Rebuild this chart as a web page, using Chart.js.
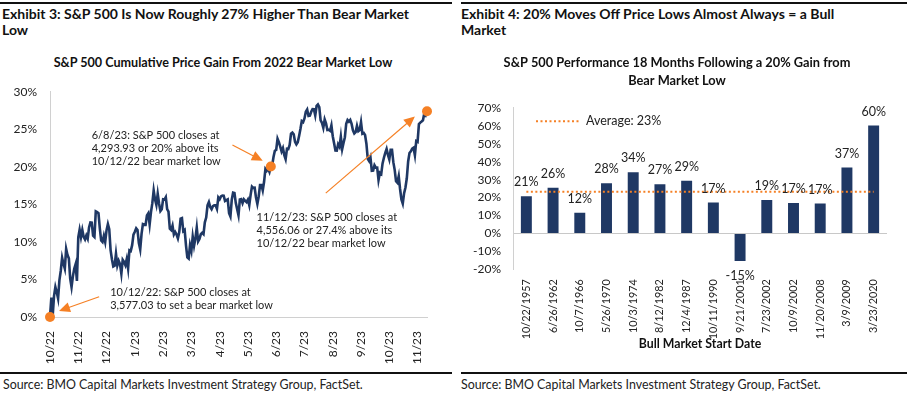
<!DOCTYPE html>
<html>
<head>
<meta charset="utf-8">
<script src="https://cdn.jsdelivr.net/npm/chart.js@4.4.1/dist/chart.umd.min.js"></script>
<style>
  body { margin: 0; width: 907px; height: 393px; background: #fff; position: relative; overflow: hidden; font-family: Lato, sans-serif; color: #111; }
  .rule { position: absolute; height: 1.5px; background: #111; }
  .head { position: absolute; top: 6px; font-weight: bold; font-size: 14px; line-height: 16px; color: #111; white-space: nowrap; }
  .sub { position: absolute; font-weight: bold; font-size: 12.6px; color: #111; text-align: center; white-space: nowrap; }
  .src { position: absolute; top: 377px; font-size: 12.4px; color: #222; white-space: nowrap; }
  canvas { position: absolute; top: 50px; }
</style>
</head>
<body>
  <div class="rule" style="left:0;width:452px;top:2px"></div>
  <div class="head" style="left:2px">Exhibit 3: S&amp;P 500 Is Now Roughly 27% Higher Than Bear Market<br>Low</div>
  <div class="sub" style="left:23px;width:400px;top:55px">S&amp;P 500 Cumulative Price Gain From 2022 Bear Market Low</div>
  <canvas id="gainChart" width="453" height="322" style="left:0"></canvas>
  <div class="rule" style="left:0;width:452px;top:372px"></div>
  <div class="src" style="left:3px">Source: BMO Capital Markets Investment Strategy Group, FactSet.</div>

  <div class="rule" style="left:461px;width:446px;top:2px"></div>
  <div class="head" style="left:461px">Exhibit 4: 20% Moves Off Price Lows Almost Always = a Bull<br>Market</div>
  <canvas id="bullChart" width="454" height="322" style="left:453px"></canvas>
  <div class="rule" style="left:461px;width:446px;top:372px"></div>
  <div class="src" style="left:461px">Source: BMO Capital Markets Investment Strategy Group, FactSet.</div>

<script>
  // S&P 500 daily closes, 10/12/22 bear market low through 11/22/23
  const lowClose = 3577.03;
  const spxClose = [
    // Oct 22
    3577.03, 3669.91, 3583.07, 3677.95, 3719.98, 3695.16, 3665.78, 3752.75, 3797.34, 3859.11, 3830.60, 3807.30, 3901.06, 3871.98,
    // Nov 22
    3856.10, 3759.69, 3719.89, 3770.55, 3806.80, 3828.11, 3748.57, 3956.37, 3992.93, 3957.25, 3991.73, 3958.79, 3946.56, 3965.34, 3949.94, 4003.58, 4027.26, 4026.12, 3963.94, 3957.63, 4080.11,
    // Dec 22
    4076.57, 4071.70, 3998.84, 3941.26, 3933.92, 3963.51, 3934.38, 3990.56, 4019.65, 3995.32, 3895.75, 3852.36, 3817.66, 3821.62, 3878.44, 3822.39, 3844.82, 3829.25, 3783.22, 3849.28, 3839.50,
    // Jan 23
    3824.14, 3852.97, 3808.10, 3895.08, 3892.09, 3919.25, 3969.61, 3983.17, 3999.09, 3990.97, 3928.86, 3898.85, 3972.61, 4019.81, 4016.95, 4016.22, 4060.43, 4070.56, 4017.77, 4076.60,
    // Feb 23
    4119.21, 4179.76, 4136.48, 4111.08, 4164.00, 4117.86, 4081.50, 4090.46, 4137.29, 4136.13, 4147.60, 4090.41, 4079.09, 3997.34, 3991.05, 4012.32, 3970.04, 3982.24, 3970.15,
    // Mar 23
    3951.39, 3981.35, 4045.64, 4048.42, 3986.37, 3992.01, 3918.32, 3861.59, 3855.76, 3919.29, 3891.93, 3960.28, 3916.64, 3951.57, 4002.87, 3936.97, 3948.72, 3970.99, 3977.53, 3971.27, 4027.81, 4050.83, 4109.31,
    // Apr 23
    4124.51, 4100.60, 4090.38, 4105.02, 4109.11, 4108.94, 4091.95, 4146.22, 4137.64, 4151.32, 4154.87, 4154.52, 4129.79, 4133.52, 4137.04, 4071.63, 4055.99, 4135.35, 4169.48,
    // May 23
    4167.87, 4119.58, 4090.75, 4061.22, 4136.25, 4138.12, 4119.17, 4137.64, 4130.62, 4124.08, 4136.28, 4109.90, 4158.77, 4198.05, 4191.98, 4192.63, 4145.58, 4115.24, 4151.28, 4205.45, 4205.52, 4179.83,
    // Jun 23
    4221.02, 4282.37, 4273.79, 4283.85, 4267.52, 4293.93, 4298.86, 4338.93, 4369.01, 4372.59, 4425.84, 4409.59, 4388.71, 4365.69, 4381.89, 4348.33, 4328.82, 4378.41, 4376.86, 4396.44, 4450.38,
    // Jul 23
    4455.59, 4446.82, 4411.59, 4398.95, 4409.53, 4439.26, 4472.16, 4510.04, 4505.42, 4522.79, 4554.98, 4565.72, 4534.87, 4536.34, 4554.64, 4567.46, 4566.75, 4537.41, 4582.23, 4588.96,
    // Aug 23
    4576.73, 4513.39, 4501.89, 4478.03, 4518.44, 4499.38, 4467.71, 4468.83, 4464.05, 4489.72, 4437.86, 4404.33, 4370.36, 4369.71, 4399.77, 4387.55, 4436.01, 4376.31, 4405.71, 4433.31, 4497.63, 4514.87, 4507.66,
    // Sep 23
    4515.77, 4496.83, 4465.48, 4451.14, 4457.49, 4487.46, 4461.90, 4467.44, 4505.10, 4450.32, 4453.53, 4443.95, 4402.20, 4330.00, 4320.06, 4337.44, 4273.53, 4274.51, 4299.70, 4288.05,
    // Oct 23
    4288.39, 4229.45, 4263.75, 4258.19, 4308.50, 4335.66, 4358.24, 4376.95, 4349.61, 4327.78, 4373.63, 4373.20, 4314.60, 4278.00, 4224.16, 4217.04, 4247.68, 4186.77, 4137.23, 4117.37, 4166.82, 4193.80,
    // Nov 23
    4237.86, 4317.78, 4358.34, 4365.98, 4378.38, 4382.78, 4347.35, 4415.24, 4411.55, 4495.70, 4502.88, 4508.24, 4514.02, 4547.38, 4538.19, 4556.62
  ];
  const highlightIdx = [0, 164, 280];
  const monthTicks = ['10/22', '11/22', '12/22', '1/23', '2/23', '3/23', '4/23', '5/23', '6/23', '7/23', '8/23', '9/23', '10/23', '11/23'];
  const tickEvery = 21;

  const bullDates = ['10/22/1957', '6/26/1962', '10/7/1966', '5/26/1970', '10/3/1974', '8/12/1982', '12/4/1987',
    '10/11/1990', '9/21/2001', '7/23/2002', '10/9/2002', '11/20/2008', '3/9/2009', '3/23/2020'];
  const bullReturns = [20.7, 25.5, 11.5, 28.0, 34.2, 27.4, 29.4, 17.2, -15.4, 18.7, 17.0, 16.7, 36.8, 60.2];
  const avgReturn = 23.3;

  const NAVY = '#1f3864';
  const ORANGE = '#f58025';
  const TEXT = '#222';
  const AXIS = '#d0d0d0';
  const FONT = 'Lato';

  // callouts on the left chart, placed in data units (point index, % gain)
  const notes = [
    { lines: ['6/8/23: S&P 500 closes at', '4,293.93 or 20% above its', '10/12/22 bear market low'],
      at: [31, 24.2], from: [135.5, 22.9], to: [158, 20.8] },
    { lines: ['11/12/23: S&P 500 closes at', '4,556.06 or 27.4% above its', '10/12/22 bear market low'],
      at: [153.4, 13.3], from: [204.8, 16.5], to: [271, 26.7] },
    { lines: ['10/12/22: S&P 500 closes at', '3,577.03 to set a bear market low'],
      at: [44.7, 3.3], from: [36.5, 2.7], to: [6.7, 0.8] }
  ];

  function drawArrow(ctx, x0, y0, x1, y1) {
    const ang = Math.atan2(y1 - y0, x1 - x0);
    const len = 11, half = 5;
    ctx.beginPath();
    ctx.moveTo(x0, y0);
    ctx.lineTo(x1 - Math.cos(ang) * len * 0.8, y1 - Math.sin(ang) * len * 0.8);
    ctx.stroke();
    ctx.beginPath();
    ctx.moveTo(x1, y1);
    ctx.lineTo(x1 - Math.cos(ang) * len - Math.sin(ang) * half, y1 - Math.sin(ang) * len + Math.cos(ang) * half);
    ctx.lineTo(x1 - Math.cos(ang) * len + Math.sin(ang) * half, y1 - Math.sin(ang) * len - Math.cos(ang) * half);
    ctx.closePath();
    ctx.fill();
  }

  const calloutPlugin = {
    id: 'callouts',
    afterDatasetsDraw(chart) {
      const {ctx, scales: {x, y}} = chart;
      ctx.save();
      ctx.font = '11px ' + FONT;
      ctx.textAlign = 'left';
      ctx.textBaseline = 'middle';
      ctx.strokeStyle = ORANGE;
      ctx.fillStyle = ORANGE;
      ctx.lineWidth = 1.2;
      notes.forEach(n => {
        drawArrow(ctx, x.getPixelForValue(n.from[0]), y.getPixelForValue(n.from[1]),
          x.getPixelForValue(n.to[0]), y.getPixelForValue(n.to[1]));
      });
      ctx.fillStyle = TEXT;
      notes.forEach(n => {
        const tx = x.getPixelForValue(n.at[0]);
        const ty = y.getPixelForValue(n.at[1]);
        n.lines.forEach((t, i) => ctx.fillText(t, tx, ty + i * 13.3));
      });
      ctx.restore();
    }
  };

  const gainPct = spxClose.map(c => (c / lowClose - 1) * 100);
  const highlightPts = gainPct.map((v, i) => highlightIdx.includes(i) ? v : null);

  new Chart(document.getElementById('gainChart'), {
    type: 'line',
    data: {
      labels: spxClose.map((_, i) => i),
      datasets: [
        { data: highlightPts, showLine: false, pointRadius: 5, pointBackgroundColor: ORANGE, pointBorderWidth: 0, clip: false, order: 0 },
        { data: gainPct, borderColor: NAVY, borderWidth: 2.6, pointRadius: 0, tension: 0, clip: false, order: 1 }
      ]
    },
    options: {
      responsive: false,
      animation: false,
      layout: { padding: { left: 0, right: 26, top: 41.7, bottom: 0 } },
      plugins: {
        legend: { display: false },
        tooltip: { enabled: false }
      },
      scales: {
        x: {
          grid: { display: false, drawTicks: false },
          border: { display: true, color: AXIS },
          ticks: {
            autoSkip: false, maxRotation: 90, minRotation: 90, padding: 14,
            color: TEXT, font: { family: FONT, size: 12 },
            callback: (v, i) => i % tickEvery === 0 ? monthTicks[i / tickEvery] : null
          },
          afterFit: s => { s.height = 55; }
        },
        y: {
          min: 0, max: 30,
          grid: { display: false, drawTicks: false },
          border: { display: true, color: AXIS },
          ticks: { stepSize: 5, padding: 13, color: TEXT, font: { family: FONT, size: 12 }, callback: v => v + '%' },
          afterFit: s => { s.width = 50; }
        }
      }
    },
    plugins: [calloutPlugin]
  });

  const barLabelPlugin = {
    id: 'barLabels',
    afterDatasetsDraw(chart) {
      const {ctx, chartArea} = chart;
      const meta = chart.getDatasetMeta(1);
      ctx.save();
      ctx.font = '12.5px ' + FONT;
      ctx.fillStyle = TEXT;
      ctx.textAlign = 'center';
      ctx.textBaseline = 'middle';
      meta.data.forEach((bar, i) => {
        const v = bullReturns[i];
        ctx.fillText(Math.round(v) + '%', bar.x, v >= 0 ? bar.y - 14 : bar.y + 15);
      });
      // legend entry for the average line
      const ly = chartArea.top + 13.4;
      ctx.strokeStyle = ORANGE;
      ctx.lineWidth = 2;
      ctx.setLineDash([2, 2.5]);
      ctx.beginPath();
      ctx.moveTo(chartArea.left + 23, ly);
      ctx.lineTo(chartArea.left + 68, ly);
      ctx.stroke();
      ctx.setLineDash([]);
      ctx.textAlign = 'left';
      ctx.fillText('Average: ' + Math.round(avgReturn) + '%', chartArea.left + 73, ly);
      ctx.restore();
    }
  };

  new Chart(document.getElementById('bullChart'), {
    type: 'bar',
    data: {
      labels: bullDates,
      datasets: [
        { type: 'line', data: bullDates.map(() => avgReturn), borderColor: ORANGE, borderWidth: 2, borderDash: [2, 2.5], pointRadius: 0, order: 0 },
        { data: bullReturns, backgroundColor: NAVY, barPercentage: 0.82, categoryPercentage: 0.5, order: 1 }
      ]
    },
    options: {
      responsive: false,
      animation: false,
      layout: { padding: { left: 14, right: 20, top: 0, bottom: 0 } },
      plugins: {
        legend: { display: false },
        tooltip: { enabled: false },
        title: {
          display: true,
          text: ['S&P 500 Performance 18 Months Following a 20% Gain from', 'Bear Market Low'],
          color: '#111',
          font: { family: FONT, size: 12.8, weight: 'bold', lineHeight: 1.35 },
          padding: { top: 4.6, bottom: 18.8 }
        }
      },
      scales: {
        x: {
          grid: { display: false, drawTicks: false },
          border: { display: false },
          ticks: { autoSkip: false, maxRotation: 90, minRotation: 90, padding: 10, color: TEXT, font: { family: FONT, size: 10.8 } },
          title: { display: true, text: 'Bull Market Start Date', color: '#111', font: { family: FONT, size: 12.3, weight: 'bold' }, padding: { top: 4, bottom: 21 } },
          afterFit: s => { s.height = 102.7; }
        },
        y: {
          min: -20, max: 70,
          grid: { drawTicks: false, color: c => c.tick.value === 0 ? '#c8c8c8' : 'transparent' },
          border: { display: true, color: AXIS },
          ticks: { stepSize: 10, padding: 12, color: TEXT, font: { family: FONT, size: 12 }, callback: v => v + '%' },
          afterFit: s => { s.width = 46; }
        }
      }
    },
    plugins: [barLabelPlugin]
  });
</script>
</body>
</html>
